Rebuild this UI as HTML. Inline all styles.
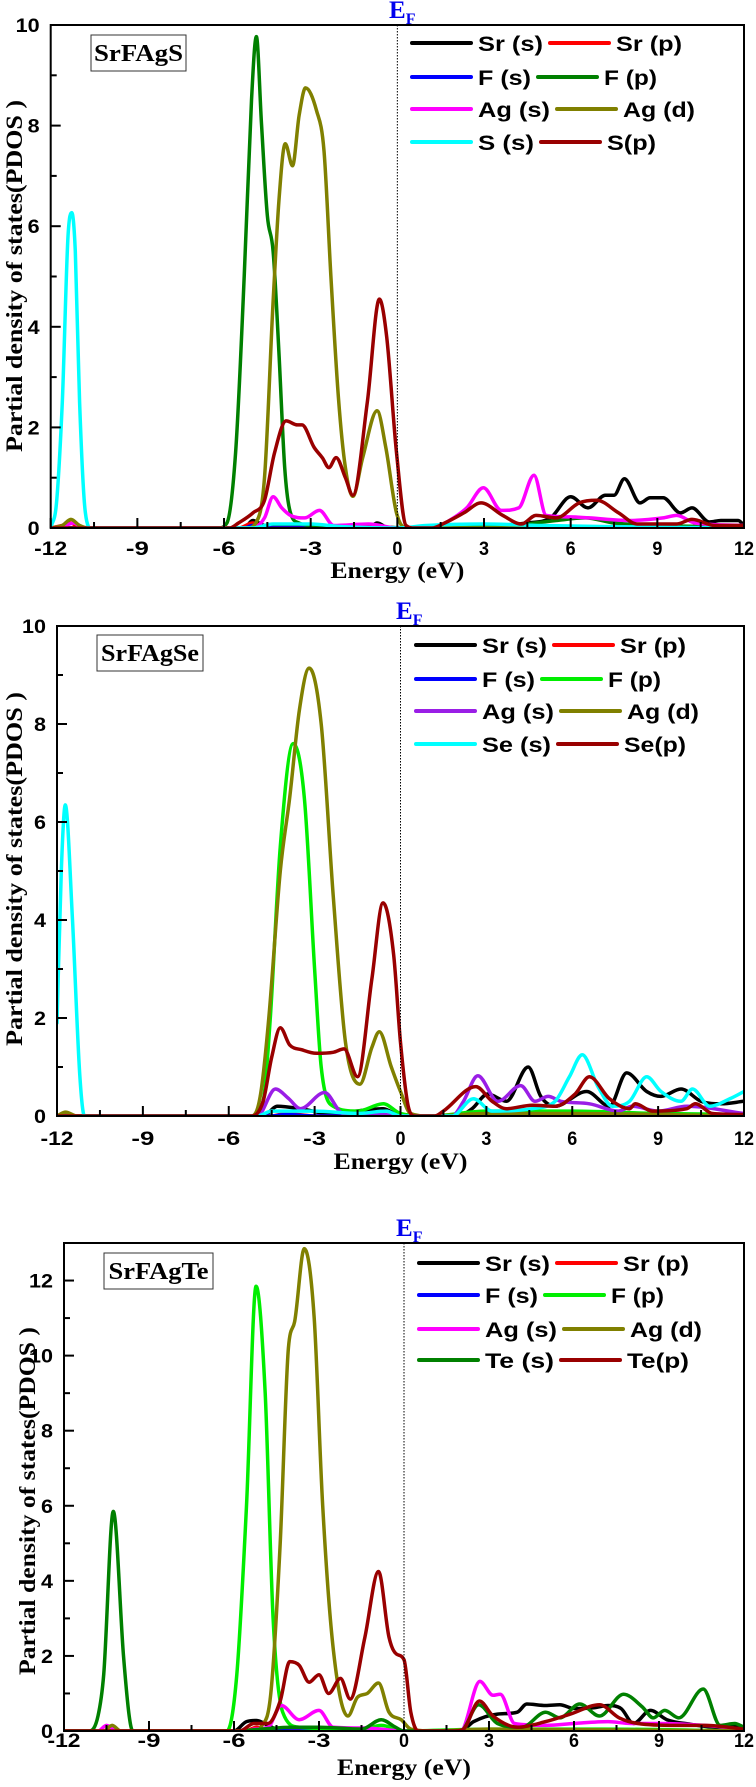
<!DOCTYPE html>
<html><head><meta charset="utf-8">
<style>
html,body{margin:0;padding:0;background:#fff;}
svg{display:block;}
</style></head>
<body>
<svg id="fig" xmlns="http://www.w3.org/2000/svg" width="756" height="1787" viewBox="0 0 756 1787"></svg>
<script>
// ---------- Panel 1: SrFAgS ----------
const p1_SrS = [[-12,0],[-5.3,0],[-5,0.15],[-4.6,0.05],[-1,0],[-0.7,0.1],[-0.3,0],[2.5,0],[3.5,0.05],[4.5,0.1],[5.3,0.2],[6,0.62],[6.6,0.4],[7.2,0.65],[7.5,0.65],[7.86,0.98],[8.4,0.5],[8.75,0.6],[9.2,0.6],[9.8,0.3],[10.2,0.4],[10.8,0.12],[11.2,0.15],[11.8,0.15],[12,0.05]];
const p1_SrP = [[-12,0],[-11.6,0.05],[-11.3,0.1],[-11,0],[-5.5,0],[-5,0.1],[-4.5,0],[12,0]];
const p1_FS = [[-12,0],[-5.3,0],[-5,0.05],[-4.6,0],[12,0]];
const p1_FP = [[-12,0],[-6.2,0],[-5.9,0.1],[-5.6,1.5],[-5.3,5],[-5.05,8.5],[-4.88,9.77],[-4.7,8],[-4.5,6.2],[-4.3,5.5],[-4.1,3.5],[-3.9,1.2],[-3.7,0.3],[-3.4,0.1],[-3,0.05],[-1,0.03],[0.5,0],[4,0.05],[5.5,0.15],[6.5,0.2],[7.5,0.1],[9,0.05],[12,0.02]];
const p1_AgS = [[-12,0],[-11.5,0.05],[-11.2,0.1],[-10.9,0],[-5,0],[-4.6,0.2],[-4.3,0.62],[-4.0,0.4],[-3.7,0.25],[-3.2,0.2],[-2.7,0.35],[-2.2,0.05],[-1,0.08],[0,0],[1.2,0],[1.8,0.15],[2.4,0.4],[2.98,0.8],[3.6,0.35],[4.2,0.4],[4.73,1.05],[5.15,0.25],[6,0.22],[6.65,0.2],[8,0.15],[9.2,0.2],[9.67,0.25],[10.3,0.1],[12,0.05]];
const p1_AgD = [[-12,0],[-11.6,0.05],[-11.3,0.17],[-11,0.05],[-10.7,0],[-5.2,0],[-4.9,0.1],[-4.6,1],[-4.3,4.5],[-4.1,6.5],[-3.88,7.64],[-3.63,7.2],[-3.4,8.2],[-3.18,8.75],[-2.8,8.3],[-2.54,7.5],[-2.3,5],[-2.04,2.6],[-1.8,1.2],[-1.54,0.63],[-1.2,1.4],[-0.7,2.33],[-0.4,1.6],[-0.03,0.3],[0.3,0],[12,0]];
const p1_SS = [[-12,0],[-11.8,0.5],[-11.6,2.5],[-11.4,5.8],[-11.27,6.27],[-11.15,5.5],[-11,2.5],[-10.8,0.3],[-10.6,0],[-5,0],[-4.3,0.08],[-3,0.08],[-2,0.03],[0,0],[1,0.05],[3,0.08],[5,0.05],[7,0.03],[12,0]];
const p1_SP = [[-12,0],[-5.8,0],[-5.5,0.1],[-5,0.3],[-4.6,0.55],[-4.25,1.5],[-3.85,2.13],[-3.46,2.05],[-3.3,2.05],[-2.88,1.6],[-2.6,1.4],[-2.37,1.2],[-2.12,1.4],[-1.8,1.0],[-1.54,0.65],[-1.04,2.5],[-0.62,4.55],[-0.37,3.8],[-0.03,1.5],[0.3,0.05],[0.6,0],[1.2,0],[1.64,0.1],[2.3,0.3],[2.9,0.5],[3.65,0.25],[4.3,0.08],[4.8,0.25],[5.5,0.2],[6.3,0.5],[6.9,0.55],[7.66,0.3],[8.3,0.08],[9.67,0.08],[10.2,0.17],[11,0.05],[12,0.05]];

// ---------- Panel 2: SrFAgSe ----------
const p2_SrS = [[-12,0],[-4.8,0],[-4.3,0.2],[-3.5,0.15],[-2.5,0.05],[-0.6,0.15],[0,0],[2,0],[2.5,0.15],[3.05,0.45],[3.7,0.3],[4.46,1.0],[4.9,0.4],[5.4,0.2],[6.5,0.5],[7.3,0.2],[7.9,0.88],[8.6,0.5],[9.1,0.4],[9.8,0.55],[10.5,0.3],[11.2,0.25],[12,0.3]];
const p2_SrP = [[-12,0],[-11.7,0.05],[-11.3,0],[-4.5,0],[-4,0.05],[-3,0],[12,0]];
const p2_FS = [[-12,0],[-4.5,0],[-4,0.03],[-3,0],[12,0]];
const p2_FP = [[-12,0],[-5.2,0],[-4.8,0.3],[-4.55,2],[-4.2,5.5],[-3.75,7.6],[-3.36,6.5],[-3.0,3],[-2.77,1],[-2.35,0.2],[-1.5,0.1],[-0.6,0.25],[0,0.05],[1,0],[3,0.1],[6,0.1],[9,0.05],[12,0.03]];
const p2_AgS = [[-12,0],[-5,0],[-4.37,0.55],[-3.9,0.35],[-3.5,0.15],[-2.65,0.48],[-2.0,0.05],[-1,0.05],[0,0],[1.8,0],[2.2,0.3],[2.7,0.82],[3.4,0.3],[4.2,0.62],[4.7,0.3],[5.16,0.4],[5.6,0.3],[6.6,0.25],[7.6,0.1],[8.1,0.2],[9,0.1],[10,0.2],[12,0.05]];
const p2_AgD = [[-12,0],[-11.7,0.08],[-11.3,0],[-5.2,0],[-4.9,0.4],[-4.6,2],[-4.2,5],[-3.87,6.5],[-3.53,8.3],[-3.19,9.14],[-2.77,8],[-2.35,4.5],[-1.92,1.5],[-1.42,0.65],[-1.0,1.4],[-0.74,1.72],[-0.32,1.0],[0,0.5],[0.35,0.05],[1,0],[3,0.05],[6,0.05],[12,0]];
const p2_SeS = [[-12,1.9],[-11.85,5],[-11.71,6.35],[-11.46,4],[-11.2,0.8],[-11.04,0],[-5,0],[-4.5,0.1],[-3,0.1],[-1.5,0.05],[-0.5,0.1],[0,0],[1.8,0],[2.55,0.35],[3.2,0.1],[4.6,0.15],[5.4,0.3],[5.9,0.8],[6.35,1.25],[6.9,0.6],[7.4,0.2],[8,0.3],[8.6,0.8],[9.1,0.5],[9.8,0.3],[10.2,0.55],[10.8,0.2],[11.5,0.35],[12,0.5]];
const p2_SeP = [[-12,0],[-5.2,0],[-4.8,0.3],[-4.5,1.2],[-4.2,1.8],[-3.87,1.45],[-3.44,1.35],[-2.94,1.28],[-2.35,1.3],[-1.97,1.37],[-1.5,0.8],[-1.0,2.8],[-0.61,4.35],[-0.24,3.3],[0,1.5],[0.27,0.2],[0.5,0],[1.2,0],[1.5,0.1],[2.63,0.6],[3.2,0.3],[3.7,0.15],[4.6,0.22],[5.4,0.2],[6.1,0.45],[6.6,0.8],[7.3,0.35],[8,0.15],[8.2,0.25],[8.8,0.1],[10,0.15],[10.3,0.25],[10.9,0.05],[12,0.03]];

// ---------- Panel 3: SrFAgTe ----------
const p3_SrS = [[-12,0],[-6,0],[-5.56,0.25],[-5.2,0.28],[-4.8,0.15],[-4.3,0],[2,0],[2.46,0.25],[3.3,0.45],[4.0,0.5],[4.33,0.72],[5,0.68],[5.5,0.7],[6,0.6],[6.7,0.62],[7.2,0.68],[7.66,0.6],[8.1,0.2],[8.7,0.55],[9.28,0.3],[10.1,0.18],[11,0.1],[11.7,0.12],[12,0.05]];
const p3_SrP = [[-12,0],[-5.6,0],[-5.2,0.1],[-4.8,0],[12,0]];
const p3_FS = [[-12,0],[-5.6,0],[-5,0.05],[-4,0],[12,0]];
const p3_FP = [[-12,0],[-6.25,0],[-5.9,1.5],[-5.56,6],[-5.22,11.85],[-4.9,9],[-4.62,3],[-4.28,0.5],[-3.7,0.1],[-1.5,0.05],[-0.8,0.15],[0,0],[3,0.05],[7,0.05],[12,0]];
const p3_AgS = [[-12,0],[-10.8,0],[-10.5,0.15],[-10.1,0],[-5.5,0],[-5.3,0.05],[-4.8,0.1],[-4.33,0.68],[-3.7,0.3],[-3.0,0.55],[-2.5,0.1],[-1.4,0.08],[0,0],[2,0],[2.68,1.32],[3.14,0.95],[3.4,0.98],[3.9,0.2],[5,0.15],[6,0.2],[7.2,0.25],[8,0.2],[9,0.2],[10.6,0.15],[12,0.05]];
const p3_AgD = [[-12,0],[-10.6,0],[-10.3,0.15],[-10,0],[-5.2,0],[-5.05,0.1],[-4.7,1],[-4.37,5],[-4.08,10.2],[-3.86,10.9],[-3.52,12.85],[-3.17,11],[-2.87,6],[-2.5,2.2],[-1.98,0.4],[-1.64,0.9],[-1.3,1.0],[-0.9,1.28],[-0.53,0.5],[-0.1,0.3],[0.24,0.05],[1,0],[3,0.05],[12,0]];
const p3_TeS = [[-12,0],[-11.1,0],[-10.8,0.4],[-10.6,1.5],[-10.26,5.85],[-9.9,2],[-9.7,0.4],[-9.57,0],[-6,0],[-5,0.05],[-4,0.1],[-3,0.1],[-1.5,0.05],[-0.8,0.3],[-0.3,0.1],[0,0],[2,0],[2.63,0.7],[3.3,0.2],[4.16,0.1],[5,0.5],[5.5,0.35],[6.2,0.72],[6.9,0.4],[7.75,0.98],[8.4,0.65],[8.8,0.35],[9.2,0.55],[9.7,0.35],[10.56,1.12],[11.16,0.15],[11.67,0.2],[12,0.1]];
const p3_TeP = [[-12,0],[-5.8,0],[-5.3,0.2],[-4.8,0.2],[-4.37,0.8],[-4.03,1.85],[-3.7,1.75],[-3.35,1.3],[-3.0,1.5],[-2.66,1.0],[-2.24,1.4],[-1.9,0.85],[-1.38,2.5],[-0.9,4.25],[-0.53,2.5],[-0.27,2.05],[0,1.9],[0.24,0.5],[0.5,0],[1.8,0],[2.1,0.05],[2.66,0.8],[3.14,0.4],[4.0,0.1],[5,0.25],[5.87,0.45],[6.9,0.7],[7.6,0.35],[8.26,0.2],[9.6,0.15],[10.6,0.15],[12,0.05]];

const xTicks = [-12,-9,-6,-3,0,3,6,9,12];
const xTickLabels = ["-12","-9","-6","-3","0","3","6","9","12"];

const C = {SrS:'#000000',SrP:'#ff0000',FS:'#0000ff',FPdark:'#008000',FPlight:'#00ee00',AgS:'#ff00ff',AgSviolet:'#9a1ee6',AgD:'#808000',Cy:'#00ffff',Xp:'#990000',TeS:'#008000'};

const panels = [
 {name:'srfags',L:50.7,R:744,T:25,B:528,ymax:10,lab:'SrFAgS',box:[91,35,95,36],labW:89,
  lb:27,tb:50,yTitle:[14,276],yTitleLen:352,ef:[389,18],
  leg:{x:412,rows:[43,77,109,142]},
  series:[['Sr (s)',p1_SrS,C.SrS,65],['Sr (p)',p1_SrP,C.SrP,66],['F (s)',p1_FS,C.FS,53],['F (p)',p1_FP,C.FPdark,53],['Ag (s)',p1_AgS,C.AgS,72],['Ag (d)',p1_AgD,C.AgD,72],['S (s)',p1_SS,C.Cy,56],['S(p)',p1_SP,C.Xp,49]]},
 {name:'srfagse',L:57,R:744,T:626,B:1116,ymax:10,lab:'SrFAgSe',box:[97,635,106,36],labW:98,
  lb:29,tb:53,yTitle:[14,869],yTitleLen:354,ef:[396,619],
  leg:{x:416,rows:[645,679,711,744]},
  series:[['Sr (s)',p2_SrS,C.SrS,65],['Sr (p)',p2_SrP,C.SrP,66],['F (s)',p2_FS,C.FS,53],['F (p)',p2_FP,C.FPlight,53],['Ag (s)',p2_AgS,C.AgSviolet,72],['Ag (d)',p2_AgD,C.AgD,72],['Se (s)',p2_SeS,C.Cy,69],['Se(p)',p2_SeP,C.Xp,62]]},
 {name:'srfagte',L:64,R:744,T:1243,B:1731,ymax:13,lab:'SrFAgTe',box:[104,1253,109,36],labW:100,
  lb:16,tb:44,yTitle:[27,1501],yTitleLen:348,ef:[396,1236],
  leg:{x:419,rows:[1263,1295,1329,1360]},
  series:[['Sr (s)',p3_SrS,C.SrS,65],['Sr (p)',p3_SrP,C.SrP,66],['F (s)',p3_FS,C.FS,53],['F (p)',p3_FP,C.FPlight,53],['Ag (s)',p3_AgS,C.AgS,72],['Ag (d)',p3_AgD,C.AgD,72],['Te (s)',p3_TeS,C.TeS,69],['Te(p)',p3_TeP,C.Xp,62]]}
];

const NS='http://www.w3.org/2000/svg';
const svg=document.getElementById('fig');
function mk(tag,attrs,parent){const e=document.createElementNS(NS,tag);for(const k in attrs)e.setAttribute(k,attrs[k]);(parent||svg).appendChild(e);return e;}
function txt(parent,x,y,s,size,fam,anchor,len,fill){
  const t=mk('text',{x:x,y:y,'font-size':size,'font-family':fam,'font-weight':'bold','text-anchor':anchor||'start',fill:fill||'#000'},parent);
  if(len){t.setAttribute('textLength',len);t.setAttribute('lengthAdjust','spacingAndGlyphs');}
  t.textContent=s;return t;}
const SANS='"Liberation Sans", Arial, sans-serif', SERIF='"Liberation Serif", "Times New Roman", serif';

// monotone cubic (Fritsch-Carlson) path
function pathFrom(pts,xs,ys){
  const X=pts.map(p=>xs(p[0])), Y=pts.map(p=>ys(p[1])), n=X.length;
  const d=[],m=new Array(n);
  for(let i=0;i<n-1;i++) d.push((Y[i+1]-Y[i])/(X[i+1]-X[i]));
  m[0]=d[0]; m[n-1]=d[n-2];
  for(let i=1;i<n-1;i++){ m[i]=(d[i-1]*d[i]<=0)?0:(d[i-1]+d[i])/2; }
  for(let i=0;i<n-1;i++){
    if(d[i]===0){m[i]=0;m[i+1]=0;continue;}
    const a=m[i]/d[i], b=m[i+1]/d[i], s=a*a+b*b;
    if(s>9){const t=3/Math.sqrt(s);m[i]=t*a*d[i];m[i+1]=t*b*d[i];}
  }
  let p='M'+X[0].toFixed(1)+','+Y[0].toFixed(1);
  for(let i=0;i<n-1;i++){
    const h=(X[i+1]-X[i])/3;
    p+=' C'+(X[i]+h).toFixed(1)+','+(Y[i]+m[i]*h).toFixed(1)+' '+(X[i+1]-h).toFixed(1)+','+(Y[i+1]-m[i+1]*h).toFixed(1)+' '+X[i+1].toFixed(1)+','+Y[i+1].toFixed(1);
  }
  return p;}

panels.forEach(pn=>{
  const g=mk('g',{});
  
  
  const xs=e=>pn.L+(e+12)/24*(pn.R-pn.L);
  const ys=v=>pn.B-v/pn.ymax*(pn.B-pn.T);
  const clipId='clip-'+pn.name;
  const cp=mk('clipPath',{id:clipId},g); mk('rect',{x:pn.L,y:pn.T,width:pn.R-pn.L,height:pn.B-pn.T},cp);
  const sg=mk('g',{'clip-path':'url(#'+clipId+')'},g);
  
  
  pn.series.forEach(s=>{
    const p=mk('path',{d:pathFrom(s[1],xs,ys),fill:'none',stroke:s[2],'stroke-width':3.5,'stroke-linejoin':'round','stroke-linecap':'round'},sg);
    
    
  });
  const fl=mk('line',{x1:xs(0),x2:xs(0),y1:pn.T,y2:pn.B,stroke:'#000','stroke-width':1,'stroke-dasharray':'1.5,1.5'},g);
  
  
  const fr=mk('rect',{x:pn.L,y:pn.T,width:pn.R-pn.L,height:pn.B-pn.T,fill:'none',stroke:'#000','stroke-width':2},g);
  
  
  for(let e=-12;e<=12.001;e+=1.5){
    const major=Math.abs(e/3-Math.round(e/3))<1e-6;
    const tk=mk('line',{x1:xs(e),x2:xs(e),y1:pn.B,y2:pn.B-(major?10:6),stroke:'#000','stroke-width':2},g);
    
    
  }
  xTicks.forEach((e,i)=>{
    const l=txt(g,xs(e),pn.B+pn.lb,xTickLabels[i],19,SANS,'middle',xTickLabels[i].length*10+(xTickLabels[i].startsWith('-')?3:0));
    
    
  });
  for(let v=0;v<=pn.ymax;v+=1){
    const major=v%2===0;
    const tk=mk('line',{x1:pn.L,x2:pn.L+(major?10:6),y1:ys(v),y2:ys(v),stroke:'#000','stroke-width':2},g);
    
    
    if(major){
      const s=String(v);
      const l=txt(g,pn.L-11,ys(v)+7,s,19,SANS,'end',s.length*12);
      
      
    }
  }
  const xt=txt(g,xs(0),pn.B+pn.tb,'Energy (eV)',23,SERIF,'middle',134);
  
  
  const yt=mk('text',{x:0,y:0,'font-size':23,'font-family':SERIF,'font-weight':'bold','text-anchor':'middle',transform:'translate('+(pn.yTitle[0]+8)+','+pn.yTitle[1]+') rotate(-90)',textLength:pn.yTitleLen,lengthAdjust:'spacingAndGlyphs'},g);
  yt.textContent='Partial density of states(PDOS )';
  
  
  const ef=mk('text',{x:pn.ef[0],y:pn.ef[1],'font-size':25,'font-family':SERIF,'font-weight':'bold',fill:'#0000ee'},g);
  
  
  ef.appendChild(document.createTextNode('E'));
  const sub=mk('tspan',{'font-size':16,dy:6},ef); sub.textContent='F';
  const bx=mk('g',{},g);
  
  
  mk('rect',{x:pn.box[0],y:pn.box[1],width:pn.box[2],height:pn.box[3],fill:'#fff',stroke:'#333','stroke-width':1},bx);
  txt(bx,pn.box[0]+pn.box[2]/2,pn.box[1]+26,pn.lab,24,SERIF,'middle',pn.labW);
  const lg=mk('g',{},g);
  
  
  for(let r=0;r<4;r++){
    const y=pn.leg.rows[r];
    let x=pn.leg.x;
    for(let c=0;c<2;c++){
      const s=pn.series[r*2+c];
      const en=mk('g',{},lg);
      
      
      mk('line',{x1:x,x2:x+59,y1:y,y2:y,stroke:s[2],'stroke-width':4,'stroke-linecap':'round'},en);
      x+=59+7;
      txt(en,x,y+8,s[0],21,SANS,'start',s[3]);
      x+=s[3]+7;
    }
  }
});
</script>
</body></html>
